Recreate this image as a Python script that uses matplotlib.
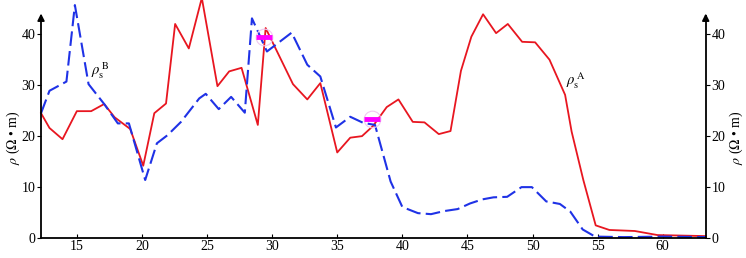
import matplotlib.pyplot as plt

plt.rcParams['font.family'] = ['Liberation Serif', 'DejaVu Serif']
plt.rcParams['mathtext.fontset'] = 'stix'

# rho_s^A (red solid)
xa = [12.25, 12.9, 13.9, 15.0, 16.1, 17.1, 17.9, 19.1, 20.1, 20.95, 21.85, 22.55, 23.6, 24.6,
      25.8, 26.7, 27.65, 28.9, 29.5, 31.6, 32.7, 33.7, 35.0, 36.0, 36.9, 37.75, 38.8, 39.7,
      40.8, 41.7, 42.8, 43.7, 44.5, 45.3, 46.2, 47.2, 48.1, 49.2, 50.2, 51.3, 52.5, 53.0,
      53.9, 54.85, 55.9, 57.85, 59.6, 63.3]
ya = [24.4, 21.5, 19.3, 24.8, 24.8, 26.2, 23.6, 21.3, 14.1, 24.4, 26.3, 41.9, 37.1, 47.0,
      29.7, 32.6, 33.3, 22.1, 41.1, 30.1, 27.1, 30.3, 16.7, 19.6, 19.9, 21.9, 25.6, 27.1,
      22.7, 22.6, 20.3, 20.9, 32.7, 39.4, 43.8, 40.1, 41.9, 38.4, 38.3, 34.9, 28.0, 20.8,
      11.3, 2.4, 1.5, 1.3, 0.5, 0.3]

# rho_s^B (blue dashed)
xb = [12.25, 12.9, 14.2, 14.85, 15.9, 17.1, 18.15, 19.0, 20.25, 21.15, 21.97, 23.0, 24.4,
      24.9, 25.9, 26.85, 27.9, 28.45, 29.6, 31.5, 32.7, 33.7, 34.9, 36.0, 37.0, 37.9, 39.1,
      40.0, 41.2, 42.2, 43.2, 44.25, 45.2, 46.15, 47.0, 48.05, 49.15, 49.95, 51.05, 52.1,
      52.9, 53.85, 54.8, 57.0, 60.0, 63.3]
yb = [24.4, 28.8, 30.6, 45.6, 30.1, 26.2, 22.4, 22.4, 11.3, 18.5, 20.1, 22.7, 27.3,
      28.2, 25.2, 27.6, 24.5, 43.0, 36.5, 40.2, 33.9, 31.6, 21.6, 23.7, 22.5, 22.1, 11.0,
      6.0, 4.8, 4.6, 5.2, 5.6, 6.7, 7.5, 7.9, 8.0, 9.9, 9.9, 7.1, 6.6,
      5.1, 1.6, 0.2, 0.1, 0.2, 0.1]

mark_x = [29.35, 37.7]
mark_y = [39.3, 23.2]

xticks = [15, 20, 25, 30, 35, 40, 45, 50, 55, 60]
yticks = [0, 10, 20, 30, 40]

fig = plt.figure(figsize=(7.46, 2.58), dpi=100)
ax = fig.add_axes([0.055, 0.079, 0.891, 0.921])

ax.plot(xa, ya, color='#e81620', lw=1.3, clip_on=False)
ax.plot(xb, yb, color='#1f32e6', lw=1.5, dashes=(7, 2.5), clip_on=False)

ax.plot(mark_x, mark_y, 'o', ms=12, mfc='none', mec='#f0c8f0', mew=0.8)
ax.plot(mark_x, mark_y, '_', ms=11, color='#ff00ff', mew=3.5)

ax.text(16.1, 32.0, r'$\rho_{\rm s}^{\,\rm B}$', fontsize=10.5)
ax.text(52.55, 30.0, r'$\rho_{\rm s}^{\,\rm A}$', fontsize=10.5)

ax.set_xlim(12.25, 63.3)
ax.set_ylim(0, 46.6)
ax.set_xticks(xticks)
ax.set_yticks(yticks)
ax.spines['top'].set_visible(False)
ax.spines['left'].set_bounds(0, 43.5)
ax.spines['right'].set_bounds(0, 43.5)
for s in ['left', 'right', 'bottom']:
    ax.spines[s].set_linewidth(1.3)
ax.tick_params(axis='x', direction='in', length=3, labelsize=10, pad=2)
ax.tick_params(axis='y', direction='out', length=3, labelsize=10, pad=1,
               right=True, labelright=True)

# arrow heads on the vertical axes
for xf in [0, 1]:
    ax.annotate('', xy=(xf, 44.5), xytext=(xf, 42.0),
                xycoords=('axes fraction', 'data'),
                arrowprops=dict(arrowstyle='-|>', color='black', lw=1.3,
                                mutation_scale=10))

ax.set_ylabel(r'$\rho$ ($\Omega$ • m)', fontsize=10, labelpad=2)
ax.yaxis.set_label_coords(-0.029, 0.42)
ax.text(1.046, 0.42, r'$\rho$ ($\Omega$ • m)', transform=ax.transAxes, rotation=90,
        fontsize=10, ha='center', va='center')

fig.savefig('out.png', dpi=100)
